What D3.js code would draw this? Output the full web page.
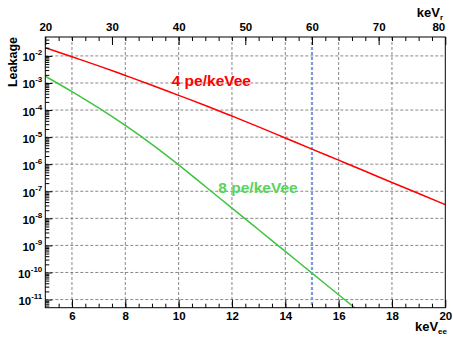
<!DOCTYPE html>
<html>
<head>
<meta charset="utf-8">
<script src="https://cdn.jsdelivr.net/npm/d3@7"></script>
<style>
  body { margin: 0; background: #fff; }
  text { font-family: "Liberation Sans", Arial, Helvetica, sans-serif; font-weight: bold; }
</style>
</head>
<body>
<div id="chart"></div>
<script>
// data
var keVee4 = [5, 6, 7, 8, 9, 10, 11, 12, 13, 14, 15, 16, 17, 18, 19, 20];
var leak4pe = [2.0e-2, 9.3e-3, 4.3e-3, 1.9e-3, 8.3e-4, 3.5e-4, 1.48e-4, 6.0e-5,
               2.4e-5, 9.3e-6, 3.6e-6, 1.41e-6, 5.5e-7, 2.1e-7, 8.3e-8, 3.2e-8];
var keVee8 = [5, 6, 7, 8, 9, 10, 11, 12, 13, 14, 15, 16, 17];
var leak8pe = [1.78e-3, 4.8e-4, 1.2e-4, 2.7e-5, 5.4e-6, 9.5e-7, 1.5e-7, 2.4e-8,
               3.8e-9, 6.0e-10, 9.5e-11, 1.5e-11, 2.4e-12];
var xTicks = [6, 8, 10, 12, 14, 16, 18, 20];
var xrTicks = [20, 30, 40, 50, 60, 70, 80];
var yTicks = [1e-2, 1e-3, 1e-4, 1e-5, 1e-6, 1e-7, 1e-8, 1e-9, 1e-10, 1e-11];
var cutKeVee = 15;
var curveLabels = [
  {text: "4 pe/keVee", x: 9.74, y: 7.6e-4, color: "#ff0000"},
  {text: "8 pe/keVee", x: 11.49, y: 8.9e-8, color: "#5ad35a"}
];

var W = 453, H = 337;
var L = 45.3, R = 445.3, T = 37, B = 307.7;

var svg = d3.select("#chart").append("svg")
    .attr("width", W)
    .attr("height", H);

var x = d3.scaleLinear().domain([5, 20]).range([L, R]);
var xr = d3.scaleLinear().domain([20, 80]).range([L, R]);
var y = d3.scaleLog().domain([5e-12, 5e-2]).range([B, T]);

// grid
svg.append("g").selectAll("line")
    .data(yTicks)
  .join("line")
    .attr("x1", L).attr("x2", R)
    .attr("y1", d => y(d)).attr("y2", d => y(d))
    .attr("stroke", "#6a6a6a")
    .attr("stroke-width", 0.8)
    .attr("stroke-dasharray", "3,2");
svg.append("g").selectAll("line")
    .data(xTicks.filter(d => d < 20))
  .join("line")
    .attr("x1", d => x(d)).attr("x2", d => x(d))
    .attr("y1", T).attr("y2", B)
    .attr("stroke", "#6a6a6a")
    .attr("stroke-width", 0.8)
    .attr("stroke-dasharray", "3,2");

// cut line
svg.append("line")
    .attr("x1", x(cutKeVee)).attr("x2", x(cutKeVee))
    .attr("y1", T).attr("y2", B)
    .attr("stroke", "#7b9be0")
    .attr("stroke-width", 2.2)
    .attr("stroke-dasharray", "3,2");

svg.append("clipPath").attr("id", "plot")
  .append("rect")
    .attr("x", L).attr("y", T)
    .attr("width", R - L).attr("height", B - T);

var line = d3.line()
    .curve(d3.curveMonotoneX)
    .x(d => x(d[0]))
    .y(d => y(d[1]));

svg.append("path")
    .datum(d3.zip(keVee4, leak4pe))
    .attr("clip-path", "url(#plot)")
    .attr("fill", "none")
    .attr("stroke", "#ff0000")
    .attr("stroke-width", 1.5)
    .attr("d", line);

svg.append("path")
    .datum(d3.zip(keVee8, leak8pe))
    .attr("clip-path", "url(#plot)")
    .attr("fill", "none")
    .attr("stroke", "#3ec43e")
    .attr("stroke-width", 1.5)
    .attr("d", line);

svg.append("g").selectAll("text")
    .data(curveLabels)
  .join("text")
    .attr("x", d => x(d.x))
    .attr("y", d => y(d.y))
    .attr("fill", d => d.color)
    .style("font-size", "15.5px")
    .text(d => d.text);

// frame
svg.append("rect")
    .attr("x", L).attr("y", T)
    .attr("width", R - L).attr("height", B - T)
    .attr("fill", "none")
    .attr("stroke", "#000")
    .attr("stroke-width", 1);

function noDomain(g) {
  g.select(".domain").remove();
  g.attr("font-family", null).attr("font-size", null);
}

// bottom axis
svg.append("g")
    .attr("transform", "translate(0," + B + ")")
    .call(d3.axisBottom(x).tickValues(d3.range(5.5, 20, 0.5)).tickSize(-4).tickFormat(""))
    .call(noDomain);
svg.append("g")
    .attr("transform", "translate(0," + B + ")")
    .call(d3.axisBottom(x).tickValues(xTicks).tickSize(-8).tickPadding(0))
    .call(noDomain)
    .call(g => g.selectAll(".tick text")
        .attr("y", 12.3).attr("dy", null)
        .style("font-size", "11.5px"));

// top axis (recoil energy)
svg.append("g")
    .attr("transform", "translate(0," + T + ")")
    .call(d3.axisTop(xr).tickValues(d3.range(22, 80, 2)).tickSize(-4).tickFormat(""))
    .call(noDomain);
svg.append("g")
    .attr("transform", "translate(0," + T + ")")
    .call(d3.axisTop(xr).tickValues(xrTicks).tickSize(-8).tickPadding(0))
    .call(noDomain)
    .call(g => g.selectAll(".tick text")
        .attr("y", -6.5).attr("dy", null)
        .attr("dx", d => d === 80 ? -7 : 0)
        .style("font-size", "11.5px"));

// left axis
var minorY = [];
d3.range(-12, -1).forEach(e => {
  for (var m = 2; m <= 9; m++) minorY.push(m * Math.pow(10, e));
});
minorY = minorY.filter(v => v > 5e-12 && v < 5e-2);
svg.append("g")
    .attr("transform", "translate(" + L + ",0)")
    .call(d3.axisLeft(y).tickValues(minorY).tickSize(-4).tickFormat(""))
    .call(noDomain);
svg.append("g")
    .attr("transform", "translate(" + L + ",0)")
    .call(d3.axisLeft(y).tickValues(yTicks).tickSize(-7).tickPadding(3).tickFormat(""))
    .call(noDomain)
    .call(g => g.selectAll(".tick text")
        .attr("dy", null).attr("y", 5)
        .style("font-size", "11.5px")
        .call(t => {
          t.append("tspan").text("10");
          t.append("tspan").attr("dy", -6).style("font-size", "8px")
              .text(d => Math.round(Math.log10(d)));
        }));

// axis titles
svg.append("text")
    .attr("transform", "translate(16.7," + T + ") rotate(-90)")
    .attr("text-anchor", "end")
    .style("font-size", "12.5px")
    .text("Leakage");

var tb = svg.append("text")
    .attr("x", 447).attr("y", 331)
    .attr("text-anchor", "end")
    .style("font-size", "13px");
tb.append("tspan").text("keV");
tb.append("tspan").attr("dy", 3).style("font-size", "8px").text("ee");

var tt = svg.append("text")
    .attr("x", 443).attr("y", 17)
    .attr("text-anchor", "end")
    .style("font-size", "13px");
tt.append("tspan").text("keV");
tt.append("tspan").attr("dy", 3).style("font-size", "8px").text("r");
</script>
</body>
</html>
